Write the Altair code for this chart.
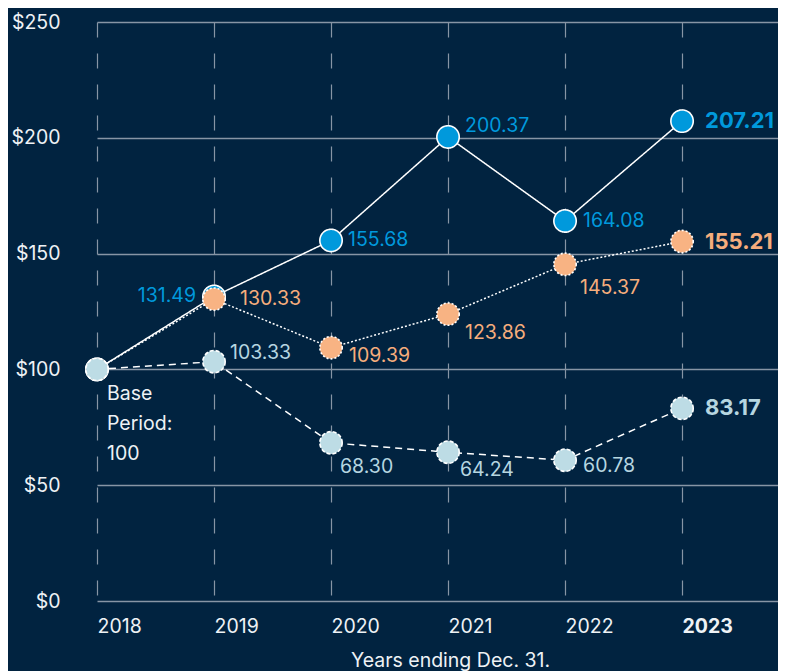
import altair as alt
import pandas as pd

# ---------------- data ----------------
years = [2018, 2019, 2020, 2021, 2022, 2023]
blue_vals = [100, 131.49, 155.68, 200.37, 164.08, 207.21]
orange_vals = [100, 130.33, 109.39, 123.86, 145.37, 155.21]
light_vals = [100, 103.33, 68.30, 64.24, 60.78, 83.17]
blue_labels = ["", "131.49", "155.68", "200.37", "164.08", "207.21"]
orange_labels = ["", "130.33", "109.39", "123.86", "145.37", "155.21"]
light_labels = ["", "103.33", "68.30", "64.24", "60.78", "83.17"]
y_ticks = [0, 50, 100, 150, 200, 250]
base_label = ["Base", "Period:", "100"]
x_title = "Years ending Dec. 31."

# ---------------- style ----------------
BG = "#012340"
GRID = "#8795a5"
TXT = "#eef2f5"
FONT = "Inter"
FS = 19.5
FS_BOLD = 22
BLUE = "#0099dc"
ORANGE = "#f8b383"
LIGHT = "#bddce5"
ORANGE_TXT = "#f6ad7c"
LIGHT_TXT = "#b6d6e0"

# label offsets (dx, dy, align) for years 2019..2023
blue_off = [(-18, 0, "right"), (17, 0, "left"), (17, -11, "left"), (18, 0, "left"), (23, 0, "left")]
orange_off = [(26, 0, "left"), (18, 8, "left"), (17, 19, "left"), (15, 24, "left"), (23, 0, "left")]
light_off = [(16, -9, "left"), (9, 24, "left"), (12, 18, "left"), (18, 6, "left"), (23, 0, "left")]

x_scale = alt.Scale(domain=[2018, 2023.82], nice=False, zero=False)
y_scale = alt.Scale(domain=[0, 250], nice=False, zero=True)

x_axis = alt.Axis(
    values=years, format="d", grid=True, gridDash=[15, 16], gridColor=GRID, gridWidth=1.2,
    domain=False, ticks=False, labelAlign="left", labelBaseline="middle", labelPadding=25,
    labelFontSize=FS, labelColor=TXT, labelFont=FONT, labelFlush=False, labelOverlap=False,
    labelFontWeight={"expr": "datum.value == 2023 ? 'bold' : 'normal'"},
    title=x_title, titleX=353, titleY=59, titleFontSize=FS, titleFontWeight="normal",
    titleColor=TXT, titleFont=FONT, titleBaseline="middle", titleAlign="center",
)
y_axis = alt.Axis(
    values=y_ticks, labelExpr="'$' + datum.value", grid=True, gridColor=GRID, gridWidth=1.5,
    domain=False, ticks=False, labelPadding=37, labelFontSize=FS, labelColor=TXT,
    labelFont=FONT, labelFlush=False, labelOverlap=False, title=None,
)

X = alt.X("year:Q", scale=x_scale, axis=x_axis)
Y = alt.Y("value:Q", scale=y_scale, axis=y_axis)


def series_layers(vals, fill, dash, sdash):
    df = pd.DataFrame({"year": years, "value": vals})
    line = alt.Chart(df).mark_line(color="white", strokeWidth=1.5, strokeDash=dash).encode(x=X, y=Y)
    pts = alt.Chart(df).mark_point(
        shape="circle", filled=True, size=500, fill=fill, fillOpacity=1,
        stroke="white", strokeWidth=1.6, strokeDash=sdash, opacity=1,
    ).encode(x=X, y=Y)
    return [line, pts]


def label_layers(vals, labels, offs, color):
    out = []
    for i in range(1, len(years)):
        df = pd.DataFrame({"year": [years[i]], "value": [vals[i]], "label": [labels[i]]})
        dx, dy, align = offs[i - 1]
        bold = i == len(years) - 1
        out.append(
            alt.Chart(df).mark_text(
                dx=dx, dy=dy, align=align, baseline="middle", font=FONT,
                fontSize=FS_BOLD if bold else FS, fontWeight="bold" if bold else "normal", color=color,
            ).encode(x=X, y=Y, text="label:N")
        )
    return out


layers = []
layers += series_layers(blue_vals, BLUE, [1, 0], [1, 0])
layers += series_layers(orange_vals, ORANGE, [2, 2], [2, 2])
layers += series_layers(light_vals, LIGHT, [7, 5], [4, 2])
layers += label_layers(blue_vals, blue_labels, blue_off, BLUE)
layers += label_layers(orange_vals, orange_labels, orange_off, ORANGE_TXT)
layers += label_layers(light_vals, light_labels, light_off, LIGHT_TXT)

base_df = pd.DataFrame({"year": [years[0]], "value": [100], "label": [base_label]})
layers.append(
    alt.Chart(base_df).mark_text(
        dx=10, dy=25, align="left", baseline="middle", font=FONT, fontSize=FS,
        color=TXT, lineHeight=30,
    ).encode(x=X, y=Y, text="label")
)

chart = alt.layer(*layers).properties(
    width=681, height=579,
    autosize=alt.AutoSizeParams(type="none"),
    padding={"left": 89, "top": 14, "right": 0, "bottom": 70},
    background=BG,
).configure_view(stroke=None)

chart.save("out.html", embed_options={"renderer": "svg", "actions": False})
